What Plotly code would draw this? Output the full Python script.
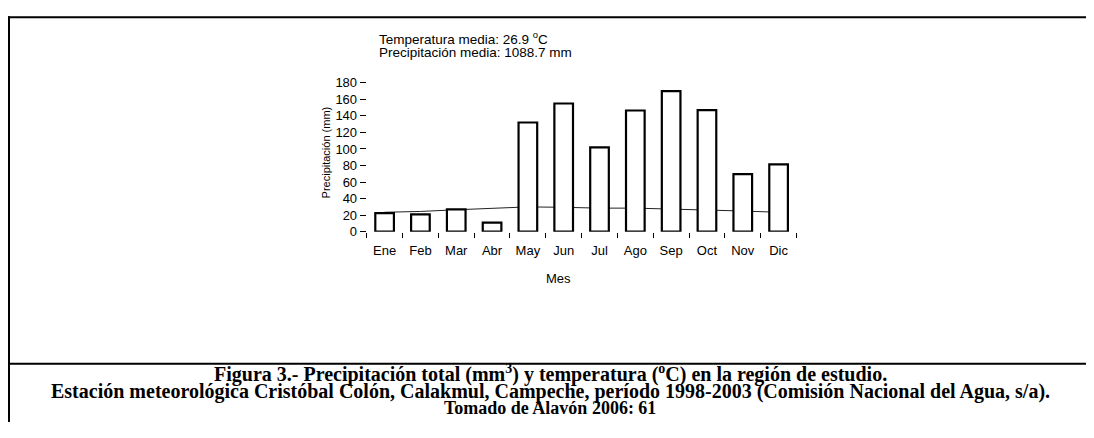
import plotly.graph_objects as go

months = ["Ene", "Feb", "Mar", "Abr", "May", "Jun", "Jul", "Ago", "Sep", "Oct", "Nov", "Dic"]
precip_mm = [22.5, 21, 27, 11, 132, 155, 102, 146.5, 170, 147, 69.5, 81.5]
temp_c = [23.5, 24.5, 26.5, 28.5, 30, 29.5, 28.5, 28.5, 27.5, 26, 25, 23.5]
y_ticks = [0, 20, 40, 60, 80, 100, 120, 140, 160, 180]

# page is 1094x438 with the browser's 8px body margin -> figure 1078x422
W, H = 1078, 422
OFF = 8
def px(x):
    return (x - OFF) / W
def py(y):
    return 1 - (y - OFF) / H

SANS = "Liberation Sans, Arial, sans-serif"
SERIF = "Liberation Serif, Times New Roman, serif"

fig = go.Figure()
fig.add_trace(go.Scatter(x=months, y=temp_c, mode="lines",
                         line=dict(color="#222", width=1), zorder=0,
                         showlegend=False, hoverinfo="skip"))
fig.add_trace(go.Bar(x=months, y=precip_mm,
                     marker=dict(color="white", line=dict(color="black", width=2.2)),
                     zorder=1, showlegend=False))

fig.update_layout(
    width=W, height=H,
    margin=dict(l=0, r=0, t=0, b=0),
    paper_bgcolor="white", plot_bgcolor="white",
    bargap=0.48,
    font=dict(family=SANS, color="black"),
    xaxis=dict(domain=[px(366.7), px(796.5)], type="category",
               showline=True, linecolor="black", linewidth=1,
               ticks="outside", tickson="boundaries", ticklen=5,
               tickcolor="black", tickwidth=1, ticklabelstandoff=7,
               tickfont=dict(size=13, family=SANS), showgrid=False),
    yaxis=dict(domain=[py(232.7), py(78.3)], range=[0, 180],
               tickvals=y_ticks, ticks="outside", ticklen=6,
               tickcolor="black", tickwidth=1,
               showline=True, linecolor="black", linewidth=1,
               showgrid=False, zeroline=False,
               tickfont=dict(size=13, family=SANS)),
)

ann = [
    dict(text="Temperatura media: 26.9 <sup>o</sup>C", x=px(376.5), y=py(32),
         xanchor="left", yanchor="middle", font=dict(size=13.5, family=SANS)),
    dict(text="Precipitación media: 1088.7 mm", x=px(376.5), y=py(46.5),
         xanchor="left", yanchor="middle", font=dict(size=13.5, family=SANS)),
    dict(text="Mes", x=px(558), y=py(280.7), xanchor="center", yanchor="middle",
         font=dict(size=13, family=SANS)),
    dict(text="Precipitación (mm)", x=px(326), y=py(150.5), textangle=-90,
         xanchor="center", yanchor="middle", font=dict(size=11, family=SANS)),
    dict(text="<b>Figura 3.- Precipitación total (mm<sup>3</sup>) y temperatura (<sup>o</sup>C) en la región de estudio.</b>",
         x=px(550), y=py(380), xanchor="center", yanchor="middle", font=dict(size=20, family=SERIF)),
    dict(text="<b>Estación meteorológica Cristóbal Colón, Calakmul, Campeche, período 1998-2003 (Comisión Nacional del Agua, s/a).</b>",
         x=px(550), y=py(398), xanchor="center", yanchor="middle", font=dict(size=20, family=SERIF)),
    dict(text="<b>Tomado de Alavón 2006: 61</b>",
         x=px(550), y=py(416), xanchor="center", yanchor="middle", font=dict(size=18, family=SERIF)),
]
for a in ann:
    a.update(xref="paper", yref="paper", showarrow=False)
fig.update_layout(annotations=ann)

shapes = [
    dict(type="line", x0=0, x1=1, y0=py(10.3), y1=py(10.3)),
    dict(type="line", x0=px(9), x1=px(9), y0=py(9.3), y1=0),
    dict(type="line", x0=0, x1=1, y0=py(369.5), y1=py(369.5)),
]
for s in shapes:
    s.update(xref="paper", yref="paper", line=dict(color="black", width=2))
fig.update_layout(shapes=shapes)

fig.write_html("out.html")
